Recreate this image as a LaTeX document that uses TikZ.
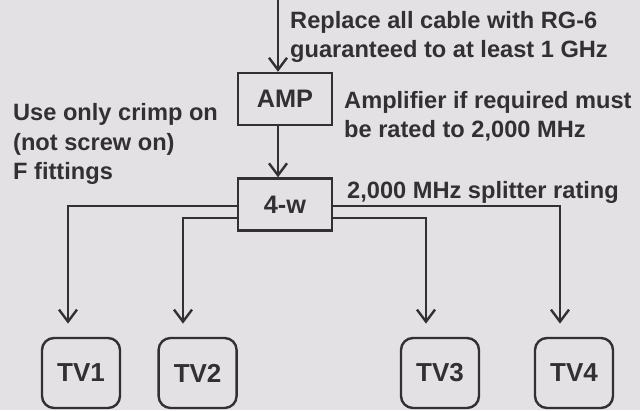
\documentclass[tikz,border=0pt]{standalone}
\usepackage{fontspec}
\setmainfont{Liberation Sans}
\usetikzlibrary{positioning,arrows.meta,calc}
\definecolor{paper}{RGB}{228,225,228}
\definecolor{ink}{RGB}{50,48,50}

\begin{document}
\begin{tikzpicture}[
    line width=1.7pt, color=ink,
    lbl/.style={font=\fontsize{16.8}{21.3}\selectfont\bfseries, text=ink, inner sep=0pt, align=left},
    unit/.style={draw=ink, minimum width=2.35cm, minimum height=1.3cm, inner sep=0pt,
      font=\fontsize{18}{20}\selectfont\bfseries, text=ink},
    tvbox/.style={draw=ink, rounded corners=0.3cm, minimum width=1.95cm, minimum height=1.75cm,
      inner sep=0pt, font=\fontsize{18.5}{20}\selectfont\bfseries, text=ink},
    arr/.style={-{Straight Barb[length=0.3cm,width=0.45cm]}}
  ]
    \fill[paper] (0,0) rectangle (16,10.25);
    \useasboundingbox (0,0) rectangle (16,10.25);
    % boxes
    \node[unit] (amp) at (7.125,7.775) {AMP};
    \node[unit] (split) at (7.125,5.1375) {4-w};
    \foreach \n/\x in {1/2.025,2/4.94,3/11.0,4/14.35}
      \node[tvbox] (tv\n) at (\x,0.925) {TV\n};
    % feed and branches
    \coordinate (feed) at (6.95,10.25);
    \draw[arr] (feed) -- (feed |- amp.north);
    \draw[arr] (amp.south -| feed) -- (split.north -| feed);
    \foreach \n/\x/\y/\side in {1/1.7/5.1/west, 2/4.575/4.8/west, 3/10.65/4.8/east, 4/14.0/5.1/east}
      \draw[arr, shorten >=0.33cm] (split.\side |- 0,\y) -| (tv\n.north -| \x,0);
    % notes (base = last line)
    \node[lbl, anchor=base west] (cabletxt) at (7.225,8.8) {Replace all cable with RG-6\\guaranteed to at least 1 GHz};
    \node[lbl, anchor=base west] (crimptxt) at (0.3,5.75) {Use only crimp on\\(not screw on)\\F fittings};
    \node[lbl, anchor=base west] (amptxt) at (8.575,6.8) {Amplifier if required must\\be rated to 2,000 MHz};
    \node[lbl, anchor=base west] (splittxt) at (8.65,5.275) {2,000 MHz splitter rating};
  \end{tikzpicture}
\end{document}
